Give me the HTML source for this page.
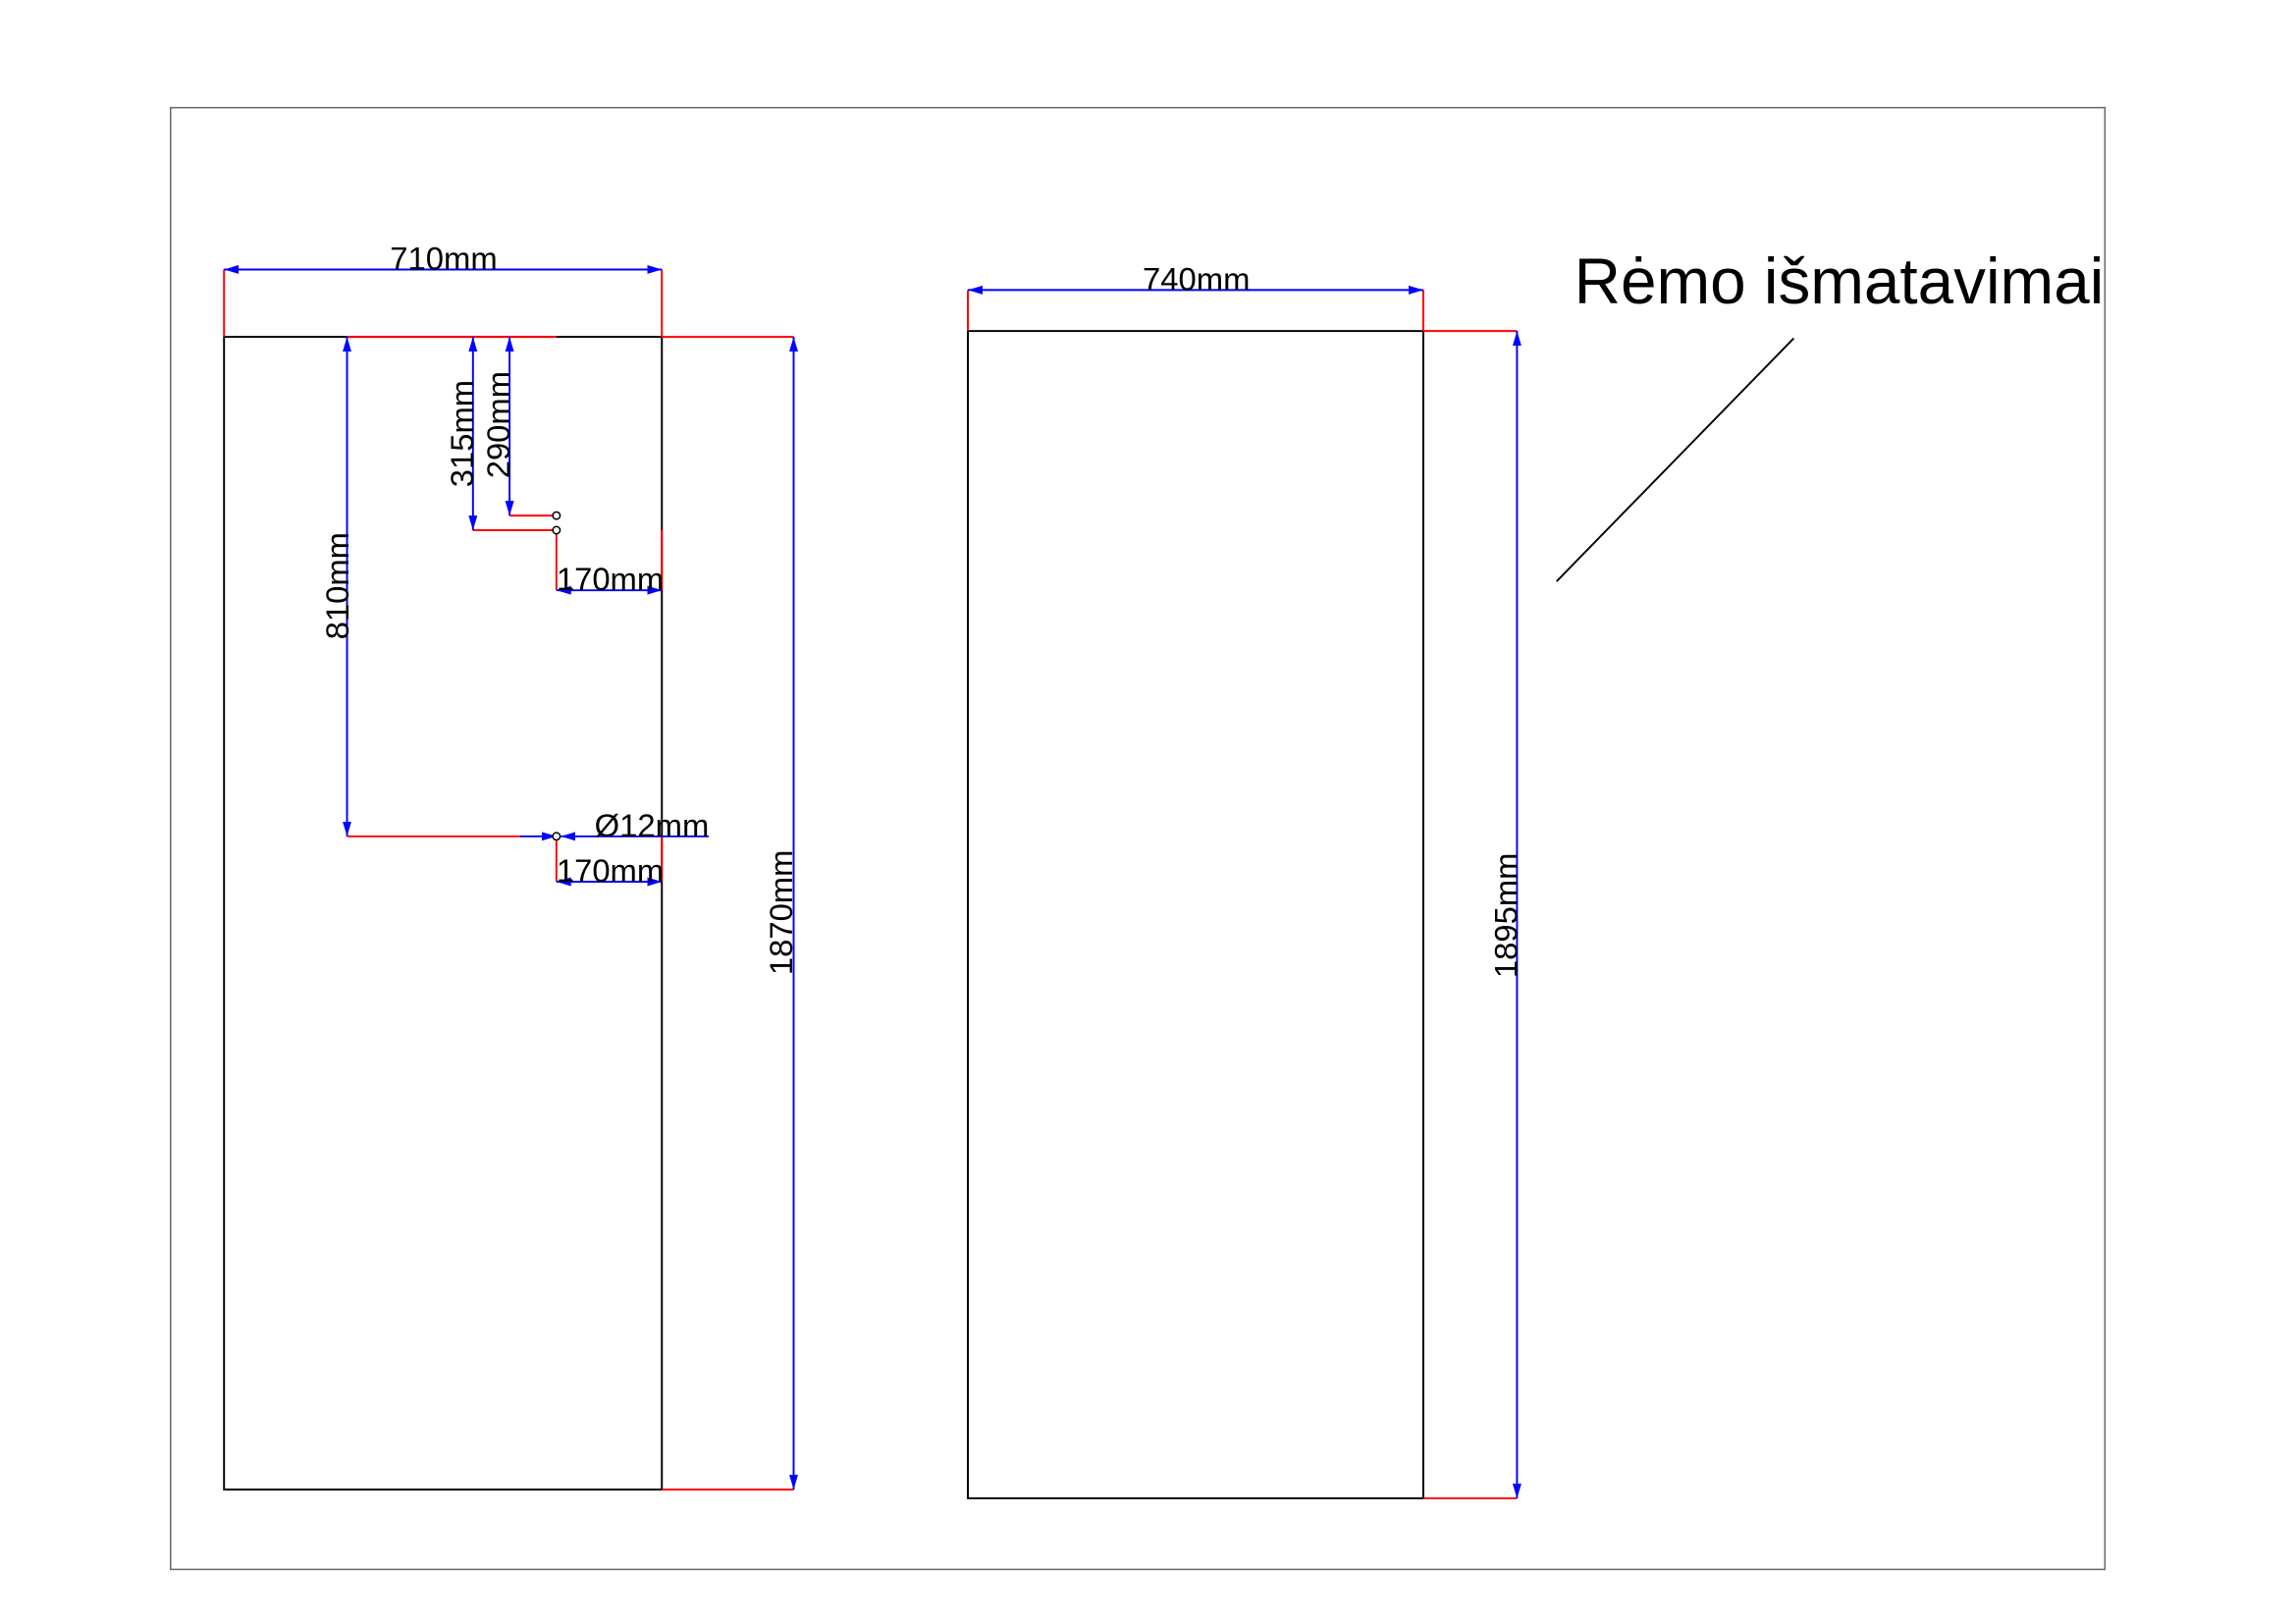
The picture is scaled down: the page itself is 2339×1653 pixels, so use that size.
<!DOCTYPE html>
<html><head><meta charset="utf-8"><style>html,body{margin:0;padding:0;background:#fff}svg{display:block}</style></head><body>
<svg width="2339" height="1653" viewBox="0 0 1568 1108.1" preserveAspectRatio="none" xmlns="http://www.w3.org/2000/svg" font-family="Liberation Sans, sans-serif">
<defs>
<marker id="a" viewBox="0 0 10 6" refX="10" refY="3" markerWidth="10" markerHeight="6" markerUnits="userSpaceOnUse" orient="auto-start-reverse"><path d="M0,0L10,3L0,6z" fill="#00f"/></marker>
</defs>
<rect x="116.5" y="73.5" width="1321" height="998" fill="none" stroke="#666" stroke-width="1"/>
<g fill="none" stroke-width="1.3">
<rect x="153" y="230" width="299" height="787" stroke="#000"/>
<rect x="661" y="226" width="311" height="797" stroke="#000"/>
<g stroke="#f00">
<path d="M153,184V230M452,184V230M237,230H380M452,230H542M452,1017H542"/>
<path d="M237,571H355M323,362H380M348,352H380M380,362V403M452,362V403M380,571V602M452,571V602"/>
<path d="M661,198V226M972,198V226M972,226H1036M972,1023H1036"/>
</g>
<g stroke="#00f" marker-start="url(#a)" marker-end="url(#a)">
<path d="M153,184H452"/><path d="M542,230V1017"/><path d="M237,230V571"/>
<path d="M323,230V362"/><path d="M348,230V352"/><path d="M380,403H452"/><path d="M380,602H452"/>
<path d="M661,198H972"/><path d="M1036,226V1023"/>
</g>
<path d="M355,571H380" stroke="#00f" marker-end="url(#a)"/>
<path d="M484,571H383" stroke="#00f" marker-end="url(#a)"/>
<path d="M1225,231L1063,397" stroke="#000"/>
<g stroke="#000" stroke-width="1"><circle cx="380" cy="352" r="2.5" fill="#fff"/><circle cx="380" cy="362" r="2.5" fill="#fff"/><circle cx="380" cy="571" r="2.5" fill="#fff"/></g>
</g>
<g fill="#000" font-size="22">
<text x="303" y="184" text-anchor="middle">710mm</text>
<text x="817" y="198" text-anchor="middle">740mm</text>
<text x="380" y="403">170mm</text>
<text x="380" y="602">170mm</text>
<text x="406" y="571">Ø12mm</text>
<text transform="translate(238,400) rotate(-90)" text-anchor="middle">810mm</text>
<text transform="translate(323,296) rotate(-90)" text-anchor="middle">315mm</text>
<text transform="translate(348,290) rotate(-90)" text-anchor="middle">290mm</text>
<text transform="translate(541,623) rotate(-90)" text-anchor="middle">1870mm</text>
<text transform="translate(1036,625) rotate(-90)" text-anchor="middle">1895mm</text>
<text x="1075" y="207" font-size="44">Rėmo išmatavimai</text>
</g>
</svg>
</body></html>
